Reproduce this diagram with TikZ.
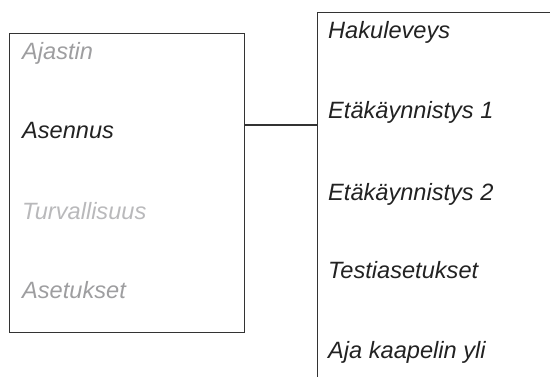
\documentclass[tikz,border=0pt]{standalone}
\usepackage{fontspec}
\setmainfont{Liberation Sans}
\usetikzlibrary{positioning}
\definecolor{FrameGray}{RGB}{51,51,51}
\definecolor{TextBlack}{RGB}{34,34,34}
\definecolor{MenuGray}{RGB}{158,158,160}
\definecolor{MenuLight}{RGB}{185,185,187}
\tikzset{
	frame/.style={draw=FrameGray, line width=1.3pt, inner sep=0pt},
	item/.style={anchor=base west, inner sep=0pt, font=\itshape\fontsize{23.6}{27}\selectfont},
	active/.style={item, text=TextBlack},
	inactive/.style={item, text=MenuGray},
	faded/.style={item, text=MenuLight},
}

\begin{document}
\begin{tikzpicture}[x=1pt,y=-1pt]
	
	\useasboundingbox (0,0) rectangle (550,376);
	\clip (0,0) rectangle (550,376);
	
	% Main menu
	\node[frame, anchor=north west, minimum width=235pt, minimum height=299pt] (mainmenu) at (9,33) {};
	\node[inactive] (ajastin) at (22,59) {Ajastin};
	\node[active] (asennus) at (22,138) {Asennus};
	\node[faded] (turva) at (22,219) {Turvallisuus};
	\node[inactive] (asetukset) at (22,298) {Asetukset};
	
	% Sub menu (runs off the page)
	\node[frame, anchor=north west, minimum width=260pt, minimum height=400pt] (submenu) at (317,12) {};
	\node[active] (haku) at (328,38) {Hakuleveys};
	\node[active] (eta1) at (328,118) {Etäkäynnistys 1};
	\node[active] (eta2) at (328,200) {Etäkäynnistys 2};
	\node[active] (testi) at (328,278) {Testiasetukset};
	\node[active] (kaapeli) at (328,358) {Aja kaapelin yli};
	
	% Link between the menus
	\coordinate (link) at (0,125);
	\draw[frame] (mainmenu.east |- link) -- (submenu.west |- link);
	
\end{tikzpicture}
\end{document}
